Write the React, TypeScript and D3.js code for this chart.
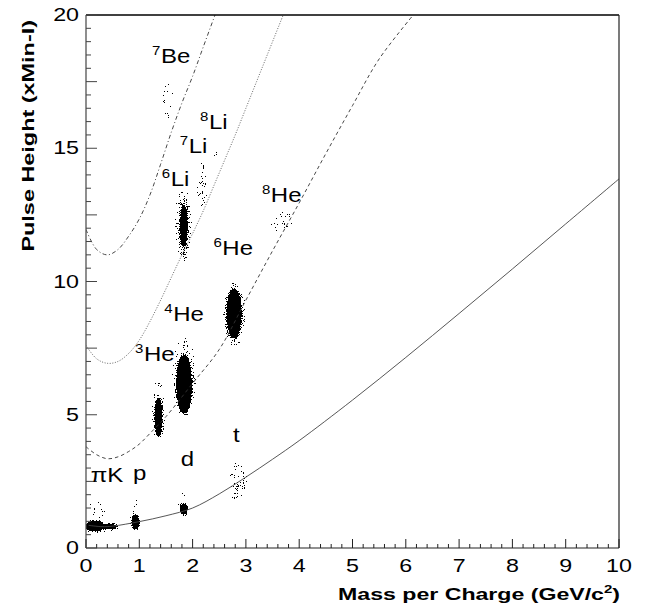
import React from "react";
import * as d3 from "d3";

const W = 645;
const H = 609;

const xTicks = [0, 1, 2, 3, 4, 5, 6, 7, 8, 9, 10];
const yTicks = [0, 5, 10, 15, 20];

// expected pulse height vs mass/charge for Z = 1..4
const z1X = [0.05, 0.3, 0.5, 1, 1.5, 2, 2.5, 3, 3.5, 4, 5, 6, 7, 8, 9, 10];
const z1Y = [0.85, 0.8, 0.82, 0.99, 1.21, 1.5, 2.03, 2.66, 3.33, 4.03, 5.55, 7.15, 8.8, 10.47, 12.16, 13.85];
const z2X = [0, 0.2, 0.4, 0.6, 0.8, 1, 1.2, 1.5, 2, 2.5, 3, 3.5, 4, 4.5, 5, 5.5, 6.14];
const z2Y = [3.8, 3.5, 3.35, 3.42, 3.62, 3.9, 4.3, 4.93, 6.18, 7.45, 9.3, 11.15, 12.95, 14.8, 16.6, 18.35, 20];
const z3X = [0, 0.2, 0.4, 0.6, 0.8, 1, 1.2, 1.4, 1.6, 1.8, 2, 2.2, 2.4, 2.6, 2.8, 3, 3.2, 3.4, 3.7];
const z3Y = [7.6, 7.1, 6.93, 7.0, 7.3, 7.8, 8.5, 9.3, 10.15, 11.0, 11.8, 12.65, 13.6, 14.55, 15.5, 16.5, 17.5, 18.5, 20];
const z4X = [0, 0.2, 0.4, 0.6, 0.8, 1, 1.2, 1.4, 1.6, 1.8, 2, 2.2, 2.42];
const z4Y = [11.95, 11.2, 11.0, 11.2, 11.7, 12.35, 13.25, 14.4, 15.6, 16.7, 17.7, 18.8, 20];

// particle clusters: centre, half-spread, density
const clusterName = ["piK", "piK tail", "piK halo", "p", "p halo", "d", "d halo", "t", "t core", "3He", "3He halo", "4He", "4He halo", "6He", "6He halo", "6Li", "6Li halo", "7Li", "8Li", "7Be", "8He"];
const clusterX = [0.17, 0.45, 0.2, 0.93, 0.93, 1.835, 1.84, 2.85, 2.84, 1.36, 1.36, 1.84, 1.84, 2.78, 2.78, 1.835, 1.83, 2.18, 2.42, 1.55, 3.68];
const clusterY = [0.82, 0.8, 1.3, 0.98, 1.5, 1.46, 1.8, 2.5, 2.3, 4.9, 5.2, 6.15, 6.4, 8.8, 8.8, 12.1, 12.1, 13.6, 14.8, 16.9, 12.2];
const clusterDX = [0.18, 0.15, 0.15, 0.07, 0.06, 0.07, 0.05, 0.15, 0.03, 0.07, 0.1, 0.14, 0.2, 0.13, 0.18, 0.06, 0.13, 0.09, 0.05, 0.09, 0.2];
const clusterDY = [0.2, 0.09, 0.5, 0.28, 0.45, 0.21, 0.3, 0.8, 0.15, 0.72, 1.1, 1.1, 1.5, 0.92, 1.2, 0.75, 1.3, 0.85, 0.15, 0.8, 0.5];
const clusterW = [1, 1, 0.1, 1, 0.1, 1, 0.1, 0.1, 0.45, 1, 0.1, 1, 0.12, 1, 0.2, 0.95, 0.24, 0.12, 0.1, 0.08, 0.07];

// labels: isotope number, symbol, position (mass/charge, pulse height of baseline)
const labelIso = ["7", "8", "7", "6", "8", "6", "4", "3", "", "", "", ""];
const labelSym = ["Be", "Li", "Li", "Li", "He", "He", "He", "He", "t", "d", "p", "\u03c0K"];
const labelX = [1.24, 2.14, 1.76, 1.42, 3.3, 2.39, 1.47, 0.92, 2.76, 1.78, 0.88, 0.09];
const labelY = [18.2, 15.71, 14.81, 13.58, 12.99, 10.99, 8.53, 7.03, 3.99, 3.08, 2.55, 2.49];

const FONT = "'Liberation Sans', Arial, Helvetica, sans-serif";

export default function App() {
  const x = d3.scaleLinear().domain([0, 10]).range([86, 619]);
  const y = d3.scaleLinear().domain([0, 20]).range([548, 15]);
  const line = d3.line<[number, number]>().x(d => x(d[0])).y(d => y(d[1])).curve(d3.curveCatmullRom.alpha(0.5));

  const curves = [
    { pts: z1X.map((v, i) => [v, z1Y[i]] as [number, number]), dash: "none", col: "#444" },
    { pts: z2X.map((v, i) => [v, z2Y[i]] as [number, number]), dash: "3.5 3", col: "#333" },
    { pts: z3X.map((v, i) => [v, z3Y[i]] as [number, number]), dash: "1 1.6", col: "#555" },
    { pts: z4X.map((v, i) => [v, z4Y[i]] as [number, number]), dash: "4 2.5 1 2.5", col: "#333" },
  ];

  const xMinor = d3.range(0, 10.001, 0.2);
  const yMinor = d3.range(0, 20.001, 0.5);

  return (
    <svg width={W} height={H} style={{ position: "absolute", left: 0, top: 0, background: "#fff" }} fontFamily={FONT}>
      <defs>
        <clipPath id="plot">
          <rect x={86} y={15} width={533} height={533} />
        </clipPath>
        <filter id="stip" x="-20%" y="-20%" width="140%" height="140%">
          <feGaussianBlur in="SourceGraphic" stdDeviation="1.8" result="b" />
          <feTurbulence type="fractalNoise" baseFrequency="0.9" numOctaves="2" seed="7" result="n" />
          <feComponentTransfer in="n" result="n2">
            <feFuncA type="linear" slope="3" intercept="-0.8" />
          </feComponentTransfer>
          <feComposite in="b" in2="n2" operator="arithmetic" k1="0" k2="2" k3="-1" k4="0.45" result="c" />
          <feComponentTransfer in="c" result="t">
            <feFuncA type="discrete" tableValues="0 1" />
          </feComponentTransfer>
          <feFlood floodColor="#000" result="f" />
          <feComposite in="f" in2="t" operator="in" />
        </filter>
      </defs>

      <g clipPath="url(#plot)">
        <g filter="url(#stip)">
          {clusterName.map((n, i) => (
            <ellipse key={n} cx={x(clusterX[i])} cy={y(clusterY[i])}
              rx={x(clusterDX[i]) - x(0)} ry={y(0) - y(clusterDY[i])}
              fill="#000" fillOpacity={clusterW[i]} />
          ))}
        </g>
        {curves.map((c, i) => (
          <path key={i} d={line(c.pts) || ""} fill="none" stroke={c.col} strokeWidth={0.9} strokeDasharray={c.dash} />
        ))}
      </g>

      {/* frame */}
      <line x1={86} x2={619} y1={15} y2={15} stroke="#000" strokeWidth={1.3} />
      <line x1={619} x2={619} y1={15} y2={548} stroke="#222" strokeWidth={1.2} />
      <line x1={86} x2={619} y1={548} y2={548} stroke="#222" strokeWidth={1.2} />
      <line x1={86} x2={86} y1={15} y2={548} stroke="#444" strokeWidth={1.2} />

      {/* x ticks */}
      {xMinor.map((v, i) => {
        const major = Math.abs(v - Math.round(v)) < 1e-6;
        return <line key={"xm" + i} x1={x(v)} x2={x(v)} y1={548} y2={548 - (major ? 9 : 4)} stroke="#222" strokeWidth={1} />;
      })}
      {xTicks.map(v => (
        <text key={"xt" + v} transform={`translate(${x(v)},572) scale(1.33,1)`} textAnchor="middle" fontSize={17.5}>{v}</text>
      ))}

      {/* y ticks */}
      {yMinor.map((v, i) => {
        const major = Math.abs(v / 2.5 - Math.round(v / 2.5)) < 1e-6;
        return <line key={"ym" + i} x1={86} x2={86 + (major ? 11 : 5)} y1={y(v)} y2={y(v)} stroke="#444" strokeWidth={1} />;
      })}
      {yTicks.map(v => (
        <text key={"yt" + v} transform={`translate(79,${y(v) + 6.2}) scale(1.33,1)`} textAnchor="end" fontSize={17.5}>{v}</text>
      ))}

      {/* particle labels */}
      {labelSym.map((s, i) => (
        <text key={"l" + i} transform={`translate(${x(labelX[i])},${y(labelY[i])}) scale(1.2,1)`} fontSize={20}>
          {labelIso[i] ? <tspan fontSize={12.5} dy={-8}>{labelIso[i]}</tspan> : null}
          <tspan dy={labelIso[i] ? 8 : 0} dx={labelIso[i] ? 0.5 : 0}>{s}</tspan>
        </text>
      ))}

      {/* axis titles */}
      <text transform="translate(620,600) scale(1.36,1)" textAnchor="end" fontWeight="bold" fontSize={17}>
        Mass per Charge (GeV/c<tspan fontSize={11} dy={-7}>2</tspan><tspan dy={7}>)</tspan>
      </text>
      <text transform="translate(33.5,20) rotate(-90) scale(1.42,1)" textAnchor="end" fontWeight="bold" fontSize={16.5}>
        Pulse Height (xMin-I)
      </text>
    </svg>
  );
}
